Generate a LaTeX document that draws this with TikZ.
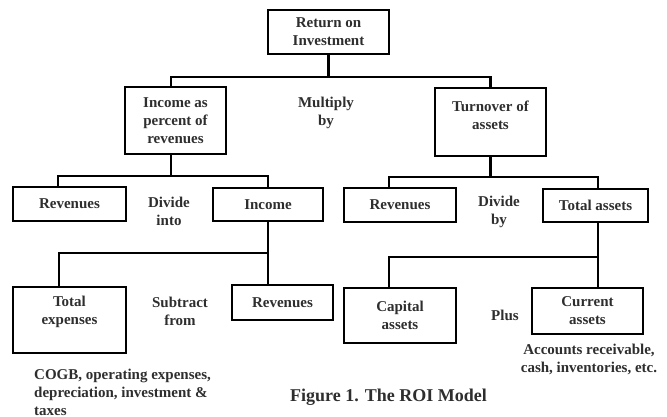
\documentclass[tikz,border=0pt]{standalone}
\usepackage{fontspec}
\setmainfont{Liberation Serif}
\definecolor{txt}{rgb}{0.18,0.18,0.18}
\tikzset{
  box/.style={draw=black, line width=2.3pt, inner sep=0pt, align=center,
    font=\bfseries\fontsize{15}{18}\selectfont, text=txt},
  lbl/.style={align=center, inner sep=0pt, font=\bfseries\fontsize{15}{18}\selectfont, text=txt},
  conn/.style={line width=2.3pt, line join=miter},
}
\begin{document}
\begin{tikzpicture}[x=1pt,y=-1pt]
\useasboundingbox (0,0) rectangle (667,417);
% boxes
\node[box, minimum width=121pt, minimum height=44pt] (roi) at (328.5,32) {Return on\\Investment};
\node[box, minimum width=101pt, minimum height=67pt] (inc) at (175.5,120.5) {Income as\\percent of\\revenues};
\node[box, minimum width=111pt, minimum height=68pt,
  label={[lbl, yshift=7pt]center:Turnover of\\assets}] (turn) at (490.5,122) {};
\node[box, minimum width=113pt, minimum height=34pt] (rev1) at (69.5,204) {Revenues};
\node[box, minimum width=110pt, minimum height=33pt] (inc2) at (268,204.5) {Income};
\node[box, minimum width=112pt, minimum height=34pt] (rev2) at (400,205) {Revenues};
\node[box, minimum width=105pt, minimum height=33pt] (ta) at (595.5,205.5) {Total assets};
\node[box, minimum width=113pt, minimum height=66pt,
  label={[lbl, yshift=8pt]center:Total\\expenses}] (te) at (69.5,320) {};
\node[box, minimum width=101pt, minimum height=35pt] (rev3) at (282.5,302.5) {Revenues};
\node[box, minimum width=112pt, minimum height=55pt] (ca) at (400,315.5) {Capital\\assets};
\node[box, minimum width=111pt, minimum height=46pt] (cu) at (587.5,311) {Current\\assets};
% bus levels
\coordinate (y1) at (0,77);
\coordinate (y2) at (0,176);
\coordinate (y3) at (0,177);
\coordinate (y4) at (0,253);
\coordinate (y5) at (0,257);
% connectors
\draw[conn] (roi.south) -- (roi.south |- y1);
\draw[conn] ([xshift=-4.5pt]inc.north) |- (turn.north |- y1) -- (turn.north);
\draw[conn] ([xshift=-4.5pt]inc.south) -- ([xshift=-4.5pt]inc.south |- y2);
\draw[conn] ([xshift=-11.5pt]rev1.north) |- (inc2.north |- y2) -- (inc2.north);
\draw[conn] (turn.south) -- (turn.south |- y3);
\draw[conn] ([xshift=-11pt]rev2.north) |- ([xshift=2.5pt]ta.north |- y3) -- ([xshift=2.5pt]ta.north);
\draw[conn] (inc2.south) -- (inc2.south |- rev3.north);
\draw[conn] (inc2.south |- y4) -| ([xshift=-10.5pt]te.north);
\draw[conn] ([xshift=2.5pt]ta.south) -- ([xshift=2.5pt]ta.south |- cu.north);
\draw[conn] ([xshift=2.5pt]ta.south |- y5) -| ([xshift=-11pt]ca.north);
% labels
\node[lbl] (mul) at (326,113) {Multiply\\by};
\node[lbl] (di) at (169,211.5) {Divide\\into};
\node[lbl] (db) at (499,212) {Divide\\by};
\node[lbl] (sf) at (180,311) {Subtract\\from};
\node[lbl] (pl) at (505,315) {Plus};
\node[lbl] (acc) at (589,359) {Accounts receivable,\\cash, inventories, etc.};
\node[lbl, align=left, anchor=west] (cogb) at (34,392) {COGB, operating expenses,\\depreciation, investment \&\\taxes};
\node[lbl, font=\bfseries\fontsize{18}{22}\selectfont] (cap) at (388.5,397) {Figure 1. The ROI Model};
\end{tikzpicture}
\end{document}
